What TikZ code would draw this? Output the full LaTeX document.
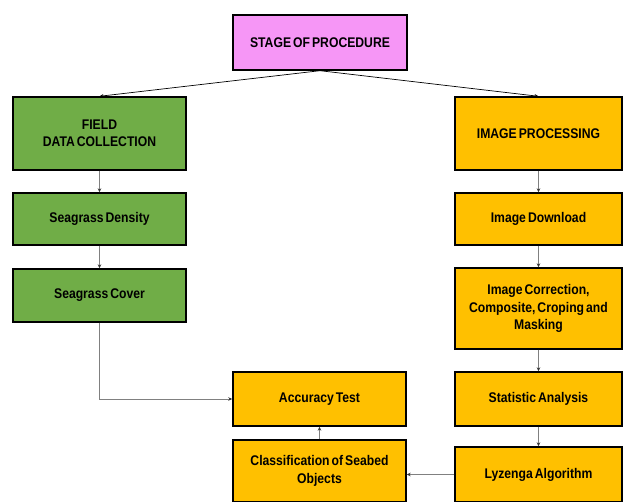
\documentclass[tikz,border=0pt]{standalone}
\usepackage{fontspec}
\setmainfont[FakeStretch=0.87,WordSpace=0.6]{Liberation Sans}
\usepackage{tikz}
\usetikzlibrary{arrows.meta,positioning,calc}
\usepackage{xcolor}

\definecolor{stagepink}{RGB}{246,150,246}
\definecolor{fieldgreen}{RGB}{112,173,71}
\definecolor{imggold}{RGB}{255,192,0}
\definecolor{linkgray}{RGB}{128,128,128}

\tikzset{
    box/.style={draw=black, line width=1.4pt, align=center, font=\bfseries\fontsize{14}{17.5}\selectfont, inner sep=2pt},
    stagebox/.style={box, fill=stagepink, minimum width=174pt, minimum height=55pt},
    fieldbox/.style={box, fill=fieldgreen, minimum width=173pt},
    imgbox/.style={box, fill=imggold, minimum width=167pt},
    accbox/.style={box, fill=imggold, minimum width=173pt},
    link/.style={-{Stealth[length=4pt,width=3.5pt,color=black!80]}, linkgray, line width=0.8pt},
    toplink/.style={-{Stealth[length=4pt,width=3.5pt]}, black, line width=0.7pt}
}

\begin{document}
\begin{tikzpicture}[x=1pt,y=-1pt]
    \useasboundingbox (0,0) rectangle (627,502);

    \node[stagebox] (stage) at (320,42.5) {STAGE OF PROCEDURE};

    % field side
    \node[fieldbox, minimum height=73pt] (field) at (99.5,133.5) {FIELD\\DATA COLLECTION};
    \node[fieldbox, minimum height=52pt] (density) at (99.5,219) {Seagrass Density};
    \node[fieldbox, minimum height=53pt] (cover) at (99.5,295.5) {Seagrass Cover};

    % image side
    \node[imgbox, minimum height=73pt] (imgproc) at (538.5,133.5) {IMAGE PROCESSING};
    \node[imgbox, minimum height=52pt] (download) at (538.5,219) {Image Download};
    \node[imgbox, minimum height=81pt] (correction) at (538.5,308.5) {Image Correction,\\Composite, Croping and\\Masking};
    \node[imgbox, minimum height=54pt] (statistic) at (538.5,399) {Statistic Analysis};
    \node[imgbox, minimum height=55pt] (lyzenga) at (538.5,474.5) {Lyzenga Algorithm};

    % results
    \node[accbox, minimum height=54pt] (accuracy) at (319.5,399) {Accuracy Test};
    \node[accbox, minimum height=62pt] (classif) at (319.5,471) {Classification of Seabed\\Objects};

    \draw[toplink] (stage.south) -- (field.north);
    \draw[toplink] (stage.south) -- (imgproc.north);

    \draw[link] (field) -- (density);
    \draw[link] (density) -- (cover);
    \draw[link] (cover.south) |- (accuracy.west);

    \draw[link] (imgproc) -- (download);
    \draw[link] (download) -- (correction);
    \draw[link] (correction) -- (statistic);
    \draw[link] (statistic) -- (lyzenga);
    \draw[link] (lyzenga.west) -- (lyzenga.west -| classif.east);
    \draw[link] (classif) -- (accuracy);
\end{tikzpicture}
\end{document}
